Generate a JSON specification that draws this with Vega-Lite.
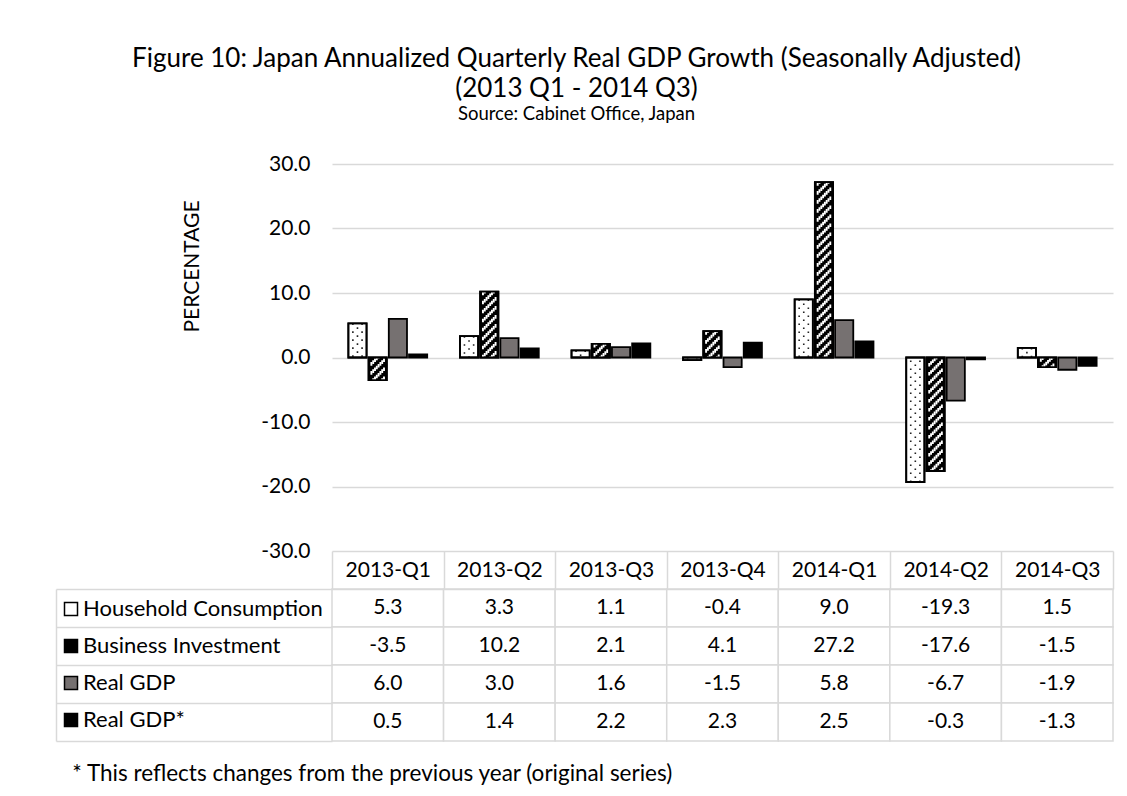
{
  "$schema": "https://vega.github.io/schema/vega-lite/v6.json",
  "background": "white",
  "padding": {"left": 55, "top": 45, "right": 15, "bottom": 10},
  "config": {
    "font": "Lato",
    "locale": {"number": {"decimal": ".", "thousands": ",", "grouping": [3], "currency": ["$", ""], "minus": "-"}},
    "view": {"stroke": null}
  },
  "datasets": {
    "growth": [
      {"quarter": "2013-Q1", "series": "Household Consumption", "value": 5.3},
      {"quarter": "2013-Q2", "series": "Household Consumption", "value": 3.3},
      {"quarter": "2013-Q3", "series": "Household Consumption", "value": 1.1},
      {"quarter": "2013-Q4", "series": "Household Consumption", "value": -0.4},
      {"quarter": "2014-Q1", "series": "Household Consumption", "value": 9.0},
      {"quarter": "2014-Q2", "series": "Household Consumption", "value": -19.3},
      {"quarter": "2014-Q3", "series": "Household Consumption", "value": 1.5},
      {"quarter": "2013-Q1", "series": "Business Investment", "value": -3.5},
      {"quarter": "2013-Q2", "series": "Business Investment", "value": 10.2},
      {"quarter": "2013-Q3", "series": "Business Investment", "value": 2.1},
      {"quarter": "2013-Q4", "series": "Business Investment", "value": 4.1},
      {"quarter": "2014-Q1", "series": "Business Investment", "value": 27.2},
      {"quarter": "2014-Q2", "series": "Business Investment", "value": -17.6},
      {"quarter": "2014-Q3", "series": "Business Investment", "value": -1.5},
      {"quarter": "2013-Q1", "series": "Real GDP", "value": 6.0},
      {"quarter": "2013-Q2", "series": "Real GDP", "value": 3.0},
      {"quarter": "2013-Q3", "series": "Real GDP", "value": 1.6},
      {"quarter": "2013-Q4", "series": "Real GDP", "value": -1.5},
      {"quarter": "2014-Q1", "series": "Real GDP", "value": 5.8},
      {"quarter": "2014-Q2", "series": "Real GDP", "value": -6.7},
      {"quarter": "2014-Q3", "series": "Real GDP", "value": -1.9},
      {"quarter": "2013-Q1", "series": "Real GDP*", "value": 0.5},
      {"quarter": "2013-Q2", "series": "Real GDP*", "value": 1.4},
      {"quarter": "2013-Q3", "series": "Real GDP*", "value": 2.2},
      {"quarter": "2013-Q4", "series": "Real GDP*", "value": 2.3},
      {"quarter": "2014-Q1", "series": "Real GDP*", "value": 2.5},
      {"quarter": "2014-Q2", "series": "Real GDP*", "value": -0.3},
      {"quarter": "2014-Q3", "series": "Real GDP*", "value": -1.3}
    ]
  },
  "title": {
    "text": ["Figure 10: Japan Annualized Quarterly Real GDP Growth (Seasonally Adjusted)", "(2013 Q1 - 2014 Q3)"],
    "subtitle": "Source: Cabinet Office, Japan",
    "anchor": "middle",
    "dx": -8,
    "fontSize": 26,
    "fontWeight": "normal",
    "lineHeight": 30,
    "color": "#000",
    "subtitleFontSize": 18.5,
    "subtitleColor": "#000",
    "subtitlePadding": 3,
    "offset": 30
  },
  "bounds": "flush",
  "spacing": 38,
  "vconcat": [
    {
      "width": 781,
      "height": 387,
      "data": {"name": "growth"},
      "encoding": {
        "x": {"field": "quarter", "type": "nominal", "axis": null,
              "scale": {"domain": ["2013-Q1", "2013-Q2", "2013-Q3", "2013-Q4", "2014-Q1", "2014-Q2", "2014-Q3"], "paddingInner": 0, "paddingOuter": 0}},
        "y": {"field": "value", "type": "quantitative",
              "scale": {"domain": [-30, 30], "nice": false, "zero": false},
              "axis": {"values": [-30, -20, -10, 0, 10, 20, 30], "format": ".1f", "labelFontSize": 21, "labelColor": "#000", "labelPadding": 22,
                       "ticks": false, "domain": false, "grid": true, "gridColor": "#d9d9d9", "gridWidth": 1.3,
                       "title": "PERCENTAGE", "titleFontSize": 21, "titleFontWeight": "normal", "titleColor": "#000",
                       "titleX": -140, "titleY": 102, "titleBaseline": "middle", "titleAlign": "center"}}
      },
      "layer": [
        {
          "mark": {"type": "bar", "stroke": "#000", "strokeWidth": 1.8},
          "encoding": {
            "xOffset": {"field": "series", "type": "nominal",
                        "scale": {"domain": ["Household Consumption", "Business Investment", "Real GDP", "Real GDP*"], "paddingInner": 0.1, "paddingOuter": 0.81}},
            "fill": {"field": "series", "type": "nominal",
                     "scale": {"domain": ["Household Consumption", "Business Investment", "Real GDP", "Real GDP*"], "range": ["#ffffff", "#000000", "#767171", "#000000"]},
                     "legend": {"orient": "none", "legendX": -272, "legendY": 434, "title": null, "direction": "vertical",
                                "symbolType": "square", "symbolSize": 169, "symbolStrokeColor": "#000", "symbolStrokeWidth": 1.5, "symbolOpacity": 1,
                                "labelFontSize": 22, "labelColor": "#000", "labelOffset": 1, "rowPadding": 15, "padding": 0, "labelLimit": 300}}
          }
        },
        {
          "transform": [{"filter": "datum.series === 'Household Consumption'"}],
          "mark": {"type": "rule", "color": "#222", "strokeWidth": 1.6, "strokeDash": [1.6, 6.4], "strokeDashOffset": 0},
          "encoding": {"x": {"field": "quarter", "type": "nominal", "bandPosition": 0.1871, "axis": null}, "y2": {"datum": 0}}
        },
        {
          "transform": [{"filter": "datum.series === 'Household Consumption'"}],
          "mark": {"type": "rule", "color": "#222", "strokeWidth": 1.6, "strokeDash": [1.6, 6.4], "strokeDashOffset": 4},
          "encoding": {"x": {"field": "quarter", "type": "nominal", "bandPosition": 0.2283, "axis": null}, "y2": {"datum": 0}}
        },
        {
          "transform": [{"filter": "datum.series === 'Household Consumption'"}],
          "mark": {"type": "rule", "color": "#222", "strokeWidth": 1.6, "strokeDash": [1.6, 6.4], "strokeDashOffset": 0},
          "encoding": {"x": {"field": "quarter", "type": "nominal", "bandPosition": 0.2695, "axis": null}, "y2": {"datum": 0}}
        },
        {"transform": [{"filter": "datum.series === 'Business Investment' && datum.value > 0"}],
         "mark": {"type": "rule", "color": "#fff", "strokeWidth": 1.9, "strokeDash": [3.6, 5.4], "strokeDashOffset": 0},
         "encoding": {"x": {"field": "quarter", "type": "nominal", "bandPosition": 0.3530, "axis": null}, "y2": {"datum": 0}}},
        {"transform": [{"filter": "datum.series === 'Business Investment' && datum.value > 0"}],
         "mark": {"type": "rule", "color": "#fff", "strokeWidth": 1.9, "strokeDash": [3.6, 5.4], "strokeDashOffset": 1.8},
         "encoding": {"x": {"field": "quarter", "type": "nominal", "bandPosition": 0.3692, "axis": null}, "y2": {"datum": 0}}},
        {"transform": [{"filter": "datum.series === 'Business Investment' && datum.value > 0"}],
         "mark": {"type": "rule", "color": "#fff", "strokeWidth": 1.9, "strokeDash": [3.6, 5.4], "strokeDashOffset": 3.6},
         "encoding": {"x": {"field": "quarter", "type": "nominal", "bandPosition": 0.3853, "axis": null}, "y2": {"datum": 0}}},
        {"transform": [{"filter": "datum.series === 'Business Investment' && datum.value > 0"}],
         "mark": {"type": "rule", "color": "#fff", "strokeWidth": 1.9, "strokeDash": [3.6, 5.4], "strokeDashOffset": 5.4},
         "encoding": {"x": {"field": "quarter", "type": "nominal", "bandPosition": 0.4014, "axis": null}, "y2": {"datum": 0}}},
        {"transform": [{"filter": "datum.series === 'Business Investment' && datum.value > 0"}],
         "mark": {"type": "rule", "color": "#fff", "strokeWidth": 1.9, "strokeDash": [3.6, 5.4], "strokeDashOffset": 7.2},
         "encoding": {"x": {"field": "quarter", "type": "nominal", "bandPosition": 0.4176, "axis": null}, "y2": {"datum": 0}}},
        {"transform": [{"filter": "datum.series === 'Business Investment' && datum.value > 0"}],
         "mark": {"type": "rule", "color": "#fff", "strokeWidth": 1.9, "strokeDash": [3.6, 5.4], "strokeDashOffset": 9.0},
         "encoding": {"x": {"field": "quarter", "type": "nominal", "bandPosition": 0.4337, "axis": null}, "y2": {"datum": 0}}},
        {"transform": [{"filter": "datum.series === 'Business Investment' && datum.value > 0"}],
         "mark": {"type": "rule", "color": "#fff", "strokeWidth": 1.9, "strokeDash": [3.6, 5.4], "strokeDashOffset": 10.8},
         "encoding": {"x": {"field": "quarter", "type": "nominal", "bandPosition": 0.4498, "axis": null}, "y2": {"datum": 0}}},
        {"transform": [{"filter": "datum.series === 'Business Investment' && datum.value > 0"}],
         "mark": {"type": "rule", "color": "#fff", "strokeWidth": 1.9, "strokeDash": [3.6, 5.4], "strokeDashOffset": 12.6},
         "encoding": {"x": {"field": "quarter", "type": "nominal", "bandPosition": 0.4660, "axis": null}, "y2": {"datum": 0}}},
        {"transform": [{"filter": "datum.series === 'Business Investment' && datum.value < 0"}],
         "mark": {"type": "rule", "color": "#fff", "strokeWidth": 1.9, "strokeDash": [3.6, 5.4], "strokeDashOffset": 12.6},
         "encoding": {"x": {"field": "quarter", "type": "nominal", "bandPosition": 0.3530, "axis": null}, "y2": {"datum": 0}}},
        {"transform": [{"filter": "datum.series === 'Business Investment' && datum.value < 0"}],
         "mark": {"type": "rule", "color": "#fff", "strokeWidth": 1.9, "strokeDash": [3.6, 5.4], "strokeDashOffset": 10.8},
         "encoding": {"x": {"field": "quarter", "type": "nominal", "bandPosition": 0.3692, "axis": null}, "y2": {"datum": 0}}},
        {"transform": [{"filter": "datum.series === 'Business Investment' && datum.value < 0"}],
         "mark": {"type": "rule", "color": "#fff", "strokeWidth": 1.9, "strokeDash": [3.6, 5.4], "strokeDashOffset": 9.0},
         "encoding": {"x": {"field": "quarter", "type": "nominal", "bandPosition": 0.3853, "axis": null}, "y2": {"datum": 0}}},
        {"transform": [{"filter": "datum.series === 'Business Investment' && datum.value < 0"}],
         "mark": {"type": "rule", "color": "#fff", "strokeWidth": 1.9, "strokeDash": [3.6, 5.4], "strokeDashOffset": 7.2},
         "encoding": {"x": {"field": "quarter", "type": "nominal", "bandPosition": 0.4014, "axis": null}, "y2": {"datum": 0}}},
        {"transform": [{"filter": "datum.series === 'Business Investment' && datum.value < 0"}],
         "mark": {"type": "rule", "color": "#fff", "strokeWidth": 1.9, "strokeDash": [3.6, 5.4], "strokeDashOffset": 5.4},
         "encoding": {"x": {"field": "quarter", "type": "nominal", "bandPosition": 0.4176, "axis": null}, "y2": {"datum": 0}}},
        {"transform": [{"filter": "datum.series === 'Business Investment' && datum.value < 0"}],
         "mark": {"type": "rule", "color": "#fff", "strokeWidth": 1.9, "strokeDash": [3.6, 5.4], "strokeDashOffset": 3.6},
         "encoding": {"x": {"field": "quarter", "type": "nominal", "bandPosition": 0.4337, "axis": null}, "y2": {"datum": 0}}},
        {"transform": [{"filter": "datum.series === 'Business Investment' && datum.value < 0"}],
         "mark": {"type": "rule", "color": "#fff", "strokeWidth": 1.9, "strokeDash": [3.6, 5.4], "strokeDashOffset": 1.8},
         "encoding": {"x": {"field": "quarter", "type": "nominal", "bandPosition": 0.4498, "axis": null}, "y2": {"datum": 0}}},
        {"transform": [{"filter": "datum.series === 'Business Investment' && datum.value < 0"}],
         "mark": {"type": "rule", "color": "#fff", "strokeWidth": 1.9, "strokeDash": [3.6, 5.4], "strokeDashOffset": 0},
         "encoding": {"x": {"field": "quarter", "type": "nominal", "bandPosition": 0.4660, "axis": null}, "y2": {"datum": 0}}},
        {
          "transform": [{"filter": "datum.series === 'Household Consumption' || datum.series === 'Business Investment'"}],
          "mark": {"type": "bar", "fillOpacity": 0, "stroke": "#000", "strokeWidth": 1.8},
          "encoding": {"xOffset": {"field": "series", "type": "nominal"}}
        }
      ]
    },
    {
      "width": 781,
      "height": 152,
      "data": {"name": "growth"},
      "title": {"text": "* This reflects changes from the previous year (original series)", "orient": "bottom", "anchor": "start",
                "frame": "bounds", "dx": 17, "offset": 21, "fontSize": 22.5, "fontWeight": "normal", "color": "#000"},
      "encoding": {
        "x": {"field": "quarter", "type": "nominal",
              "scale": {"domain": ["2013-Q1", "2013-Q2", "2013-Q3", "2013-Q4", "2014-Q1", "2014-Q2", "2014-Q3"], "paddingInner": 0, "paddingOuter": 0},
              "axis": {"orient": "top", "title": null, "tickBand": "extent", "tickSize": 38, "tickColor": "#d9d9d9", "tickWidth": 1.5,
                       "domainColor": "#d9d9d9", "domainWidth": 1.5, "labelPadding": -19, "labelBaseline": "middle", "labelAngle": 0,
                       "labelFontSize": 21, "labelColor": "#000"}},
        "y": {"field": "series", "type": "nominal",
              "scale": {"domain": ["Household Consumption", "Business Investment", "Real GDP", "Real GDP*"], "paddingInner": 0, "paddingOuter": 0},
              "axis": {"orient": "left", "title": null, "labels": false, "offset": 276, "tickBand": "extent", "tickSize": -276,
                       "tickColor": "#d9d9d9", "tickWidth": 1.5, "domainColor": "#d9d9d9", "domainWidth": 1.5}}
      },
      "layer": [
        {"mark": {"type": "rect", "fill": "#fff", "stroke": "#d9d9d9", "strokeWidth": 1.5}},
        {"mark": {"type": "text", "fontSize": 21, "color": "#000"},
         "encoding": {"text": {"field": "value", "type": "quantitative", "format": ".1f"}}}
      ]
    }
  ]
}
